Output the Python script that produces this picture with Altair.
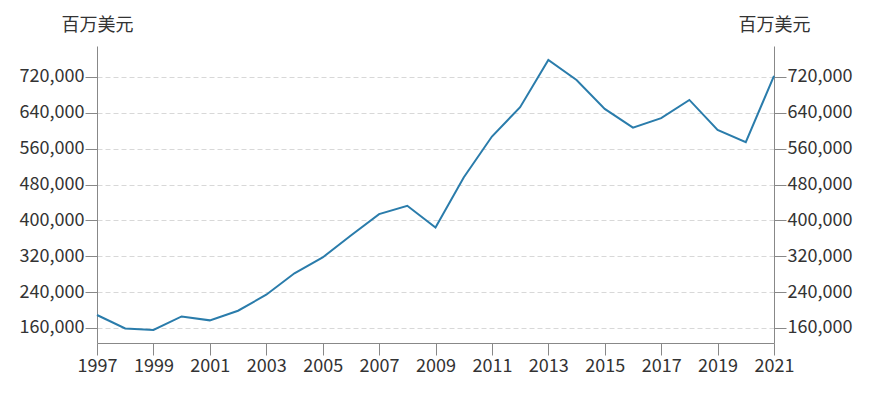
import altair as alt
import pandas as pd

years = list(range(1997, 2022))
values = [189000, 159000, 155500, 185800, 177000, 198500, 234200, 282000, 317300,
          366300, 414000, 432500, 384200, 495600, 587000, 652500, 758000, 713300,
          648700, 607000, 628000, 668700, 602000, 574500, 722200]
y_ticks = [160000, 240000, 320000, 400000, 480000, 560000, 640000, 720000]
x_ticks = list(range(1997, 2022, 2))
unit = "百万美元"

df = pd.DataFrame({"year": years, "value": values})

FONT = "Noto Sans CJK SC"
FS = 18
LINE = "#2a7cab"
AXIS = "#888888"
TXT = "#333333"

xenc = alt.X("year:Q", scale=alt.Scale(domain=[1997, 2021], nice=False, zero=False),
             axis=alt.Axis(values=x_ticks, format="d", title=None, grid=False,
                           domainColor=AXIS, tickColor=AXIS, tickSize=12,
                           labelPadding=2, labelFontSize=FS, labelColor=TXT,
                           labelFont=FONT, labelFlush=False))

yscale = alt.Scale(domain=[126500, 789000], nice=False, zero=False)

def yaxis(orient, grid):
    return alt.Axis(orient=orient, values=y_ticks, format=",.0f", title=unit,
                    grid=grid, gridDash=[5, 3], gridColor="#d8d8d8",
                    domainColor=AXIS, tickColor=AXIS, tickSize=12,
                    labelPadding=1, labelFontSize=FS, labelColor=TXT, labelFont=FONT,
                    titleAngle=0, titleX=0, titleY=-21, titleAlign="center",
                    titleBaseline="middle", titleFontWeight="normal",
                    titleFontSize=FS, titleColor=TXT, titleFont=FONT)

left = alt.Chart(df).mark_line(color=LINE, strokeWidth=2).encode(
    x=xenc, y=alt.Y("value:Q", scale=yscale, axis=yaxis("left", True)))
right = alt.Chart(df).mark_line(color=LINE, strokeWidth=2, opacity=0).encode(
    x=xenc, y=alt.Y("value:Q", scale=yscale, axis=yaxis("right", False)))

chart = alt.layer(left, right).resolve_scale(y="independent").properties(
    width=677, height=297,
    autosize=alt.AutoSizeParams(type="none"),
    padding={"left": 89, "top": 38, "right": 90, "bottom": 40},
).configure(font=FONT).configure_view(stroke=None)

chart.save("out.html", embed_options={"renderer": "svg", "actions": False})
